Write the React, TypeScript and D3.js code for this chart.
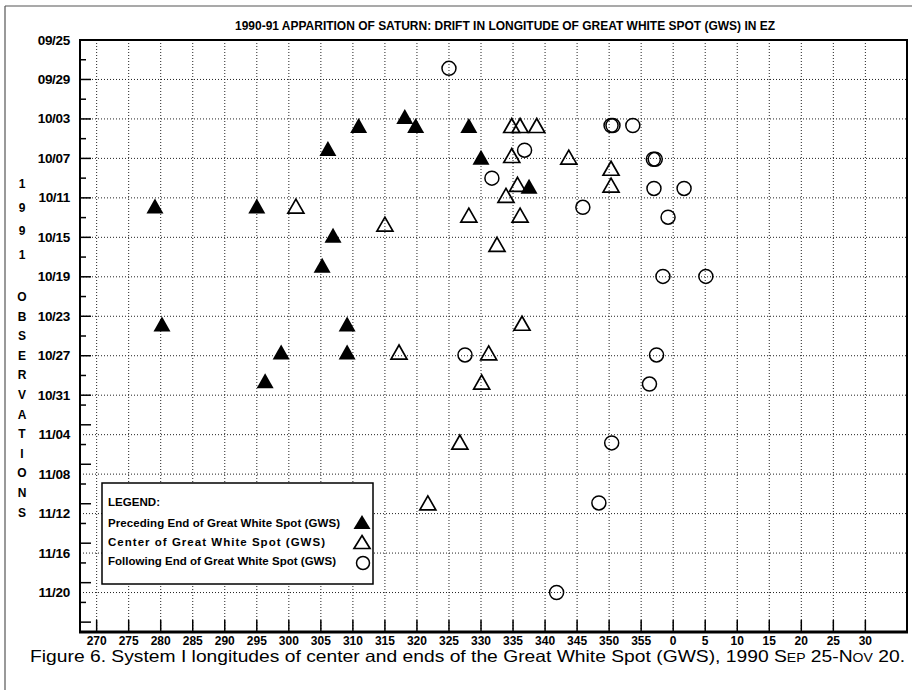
import React from 'react';
import * as d3 from 'd3';

// Observations: UTC date/time and System I longitude (deg)
const precedingEnd = [
  { date: '1990-10-11T20:00', lon: 279.1 },
  { date: '1990-10-11T20:00', lon: 295.0 },
  { date: '1990-10-06T00:00', lon: 306.1 },
  { date: '1990-10-03T16:00', lon: 310.9 },
  { date: '1990-10-02T18:00', lon: 318.1 },
  { date: '1990-10-03T16:00', lon: 319.8 },
  { date: '1990-10-03T16:00', lon: 328.1 },
  { date: '1990-10-06T21:00', lon: 330.0 },
  { date: '1990-10-09T20:00', lon: 337.5 },
  { date: '1990-10-14T19:00', lon: 306.9 },
  { date: '1990-10-17T20:00', lon: 305.2 },
  { date: '1990-10-23T19:00', lon: 280.2 },
  { date: '1990-10-23T19:00', lon: 309.1 },
  { date: '1990-10-26T15:00', lon: 298.8 },
  { date: '1990-10-26T15:00', lon: 309.1 },
  { date: '1990-10-29T13:00', lon: 296.3 },
];

const centerGws = [
  { date: '1990-10-11T20:00', lon: 301.1 },
  { date: '1990-10-03T16:00', lon: 334.8 },
  { date: '1990-10-03T16:00', lon: 336.1 },
  { date: '1990-10-03T16:00', lon: 338.7 },
  { date: '1990-10-06T17:00', lon: 334.8 },
  { date: '1990-10-06T21:00', lon: 343.7 },
  { date: '1990-10-08T00:00', lon: 350.3 },
  { date: '1990-10-09T15:00', lon: 335.7 },
  { date: '1990-10-09T17:00', lon: 350.3 },
  { date: '1990-10-10T18:00', lon: 333.9 },
  { date: '1990-10-12T18:00', lon: 328.1 },
  { date: '1990-10-12T18:00', lon: 336.1 },
  { date: '1990-10-13T16:00', lon: 315.0 },
  { date: '1990-10-15T17:00', lon: 332.5 },
  { date: '1990-10-23T17:00', lon: 336.4 },
  { date: '1990-10-26T15:00', lon: 317.2 },
  { date: '1990-10-26T17:00', lon: 331.2 },
  { date: '1990-10-29T16:00', lon: 330.1 },
  { date: '1990-11-04T18:00', lon: 326.7 },
  { date: '1990-11-10T22:00', lon: 321.7 },
];

const followingEnd = [
  { date: '1990-09-27T21:00', lon: 325.0 },
  { date: '1990-10-03T16:00', lon: 350.3 },
  { date: '1990-10-03T16:00', lon: 350.6 },
  { date: '1990-10-03T16:00', lon: 353.7 },
  { date: '1990-10-06T04:00', lon: 336.8 },
  { date: '1990-10-07T02:00', lon: 356.9 },
  { date: '1990-10-07T02:00', lon: 357.2 },
  { date: '1990-10-09T00:00', lon: 331.7 },
  { date: '1990-10-10T01:00', lon: 357.0 },
  { date: '1990-10-10T01:00', lon: 1.7 },
  { date: '1990-10-11T23:00', lon: 345.9 },
  { date: '1990-10-12T23:00', lon: 359.2 },
  { date: '1990-10-18T23:00', lon: 358.4 },
  { date: '1990-10-18T23:00', lon: 5.1 },
  { date: '1990-10-26T22:00', lon: 327.5 },
  { date: '1990-10-26T22:00', lon: 357.4 },
  { date: '1990-10-29T21:00', lon: 356.3 },
  { date: '1990-11-04T20:00', lon: 350.4 },
  { date: '1990-11-10T22:00', lon: 348.4 },
  { date: '1990-11-20T00:00', lon: 341.8 },
];

const lonTicks = [270, 275, 280, 285, 290, 295, 300, 305, 310, 315, 320, 325, 330, 335, 340, 345, 350, 355, 360, 365, 370, 375, 380, 385, 390];
const dateTicks = ['09/25', '09/29', '10/03', '10/07', '10/11', '10/15', '10/19', '10/23', '10/27', '10/31', '11/04', '11/08', '11/12', '11/16', '11/20'];
const legendLabels = [
  'Preceding End of Great White Spot (GWS)',
  'Center of Great White Spot (GWS)',
  'Following End of Great White Spot (GWS)',
];
const legendWidths = [232, 217, 228];

const W = 918;
const H = 690;
const plot = { left: 80, right: 907, top: 40, bottom: 632 };
const font = '"Liberation Sans", Arial, Helvetica, sans-serif';

const parseDate = d3.utcParse('%Y-%m-%dT%H:%M');
const parseTick = (s: string) => d3.utcParse('%Y %m/%d')('1990 ' + s) as Date;
// longitudes past 0 carry on from 360
const unwrap = (lon: number) => (lon < 180 ? lon + 360 : lon);

const x = d3.scaleLinear().domain([267.4, 396.5]).range([plot.left, plot.right]);
const y = d3.scaleUtc()
  .domain([new Date(Date.UTC(1990, 8, 25)), new Date(Date.UTC(1990, 10, 24))])
  .range([plot.top, plot.bottom]);

const triPath = (cx: number, cy: number, w: number, h: number) =>
  `M${cx},${cy - h / 2}L${cx + w / 2},${cy + h / 2}L${cx - w / 2},${cy + h / 2}Z`;

export default function App() {
  const minorTicks = d3.utcDay.every(2)!.range(y.domain()[0], y.domain()[1]);

  return (
    <svg width={W} height={H} style={{ display: 'block', position: 'absolute', left: 0, top: 0, background: '#fff' }}>
      {/* scan frame */}
      <line x1={5} y1={6} x2={912} y2={6} stroke="#555" strokeWidth={1.2} />
      <line x1={5} y1={6} x2={5} y2={H} stroke="#555" strokeWidth={1.2} />

      <text x={235} y={30} fontFamily={font} fontWeight="bold" fontSize={12} textLength={540} lengthAdjust="spacingAndGlyphs">
        1990-91 APPARITION OF SATURN: DRIFT IN LONGITUDE OF GREAT WHITE SPOT (GWS) IN EZ
      </text>

      {/* grid */}
      <g stroke="#222" strokeWidth={1} strokeDasharray="1,2">
        {lonTicks.map(t => (
          <line key={'v' + t} x1={x(t)} x2={x(t)} y1={plot.top} y2={plot.bottom} />
        ))}
        {dateTicks.map(t => (
          <line key={'h' + t} x1={plot.left} x2={plot.right} y1={y(parseTick(t))} y2={y(parseTick(t))} />
        ))}
      </g>

      {/* axis ticks */}
      <g stroke="#000" strokeWidth={1.5}>
        {minorTicks.map((d, i) => (
          <line key={'m' + i} x1={plot.left} x2={plot.left + (i % 2 === 0 ? 11 : 6)} y1={y(d)} y2={y(d)} />
        ))}
        {lonTicks.map(t => (
          <line key={'b' + t} x1={x(t)} x2={x(t)} y1={plot.bottom} y2={plot.bottom - 12} />
        ))}
      </g>

      <rect x={plot.left} y={plot.top} width={plot.right - plot.left} height={plot.bottom - plot.top} fill="none" stroke="#000" strokeWidth={2} />
      <line x1={plot.left - 1} x2={plot.right + 1} y1={plot.bottom} y2={plot.bottom} stroke="#000" strokeWidth={3} />

      {/* tick labels */}
      <g fontFamily={font} fontWeight="bold" fill="#000">
        {dateTicks.map(t => (
          <text key={'yl' + t} x={70} y={y(parseTick(t)) + 4.5} textAnchor="end" fontSize={13.5} letterSpacing={-0.3}>{t}</text>
        ))}
        {lonTicks.map(t => (
          <text key={'xl' + t} x={x(t)} y={645} textAnchor="middle" fontSize={12}>{t % 360}</text>
        ))}
      </g>

      {/* vertical axis title, stacked */}
      <g fontFamily={font} fontWeight="bold" fontSize={12} textAnchor="middle">
        {'1991'.split('').map((c, i) => (
          <text key={'yr' + i} x={22} y={188 + i * 23.5}>{c}</text>
        ))}
        {'OBSERVATIONS'.split('').map((c, i) => (
          <text key={'ob' + i} x={22} y={301 + i * 19.6}>{c}</text>
        ))}
      </g>

      {/* data */}
      <g>
        {precedingEnd.map((d, i) => (
          <path key={'p' + i} d={triPath(x(unwrap(d.lon)), y(parseDate(d.date)!), 17, 15)} fill="#000" />
        ))}
        {centerGws.map((d, i) => (
          <path key={'c' + i} d={triPath(x(unwrap(d.lon)), y(parseDate(d.date)!), 16, 14)} fill="none" stroke="#000" strokeWidth={1.7} />
        ))}
        {followingEnd.map((d, i) => (
          <circle key={'f' + i} cx={x(unwrap(d.lon))} cy={y(parseDate(d.date)!)} r={7} fill="none" stroke="#000" strokeWidth={1.5} />
        ))}
      </g>

      {/* legend */}
      <g>
        <rect x={102} y={483} width={271} height={101} fill="#fff" stroke="#000" strokeWidth={1.5} />
        <g fontFamily={font} fontWeight="bold" fontSize={11.5} fill="#000">
          <text x={108} y={506} textLength={52} lengthAdjust="spacingAndGlyphs">LEGEND:</text>
          {legendLabels.map((l, i) => (
            <text key={l} x={108} y={527 + i * 19} textLength={legendWidths[i]} lengthAdjust="spacing">{l}</text>
          ))}
        </g>
        <path d={triPath(362, 522, 17, 14)} fill="#000" />
        <path d={triPath(362, 542, 16, 13)} fill="none" stroke="#000" strokeWidth={1.7} />
        <circle cx={363} cy={563} r={6.5} fill="none" stroke="#000" strokeWidth={1.5} />
      </g>

      {/* caption */}
      <text x={30} y={662} fontFamily={font} fontSize={16.5} fill="#000" textLength={875} lengthAdjust="spacingAndGlyphs">
        Figure 6. System I longitudes of center and ends of the Great White Spot (GWS), 1990 S<tspan fontSize={12}>EP</tspan> 25-N<tspan fontSize={12}>OV</tspan> 20.
      </text>
    </svg>
  );
}
